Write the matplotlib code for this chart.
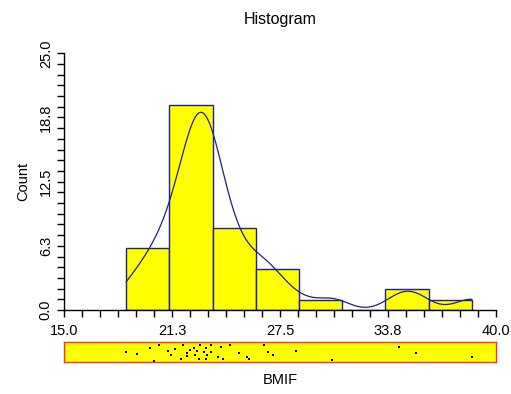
import numpy as np
import matplotlib.pyplot as plt
from matplotlib.ticker import FixedLocator

plt.rcParams["font.family"] = ["Liberation Sans", "DejaVu Sans"]

# BMIF values (a few overlap exactly)
bmif = [18.6, 19.2, 20.0, 20.2, 20.5, 21.0, 21.2, 21.4, 21.8, 21.9,
        22.1, 22.1, 22.3, 22.5, 22.6, 22.7, 22.8, 22.9, 23.1, 23.2,
        23.2, 23.3, 23.5, 23.5, 23.9, 24.1, 24.2, 24.6, 25.1, 25.6,
        25.7, 26.6, 26.8, 27.1, 28.4, 30.5, 34.4, 35.4, 38.6,
        22.9, 23.2, 24.2]
# vertical jitter of each rug dot (0 = bottom of strip, 1 = top)
rug_jitter = [0.50, 0.40, 0.70, 0.07, 0.84, 0.57, 0.34, 0.67, 0.17, 0.84,
              0.29, 0.47, 0.60, 0.70, 0.37, 0.54, 0.17, 0.84, 0.50, 0.70,
              0.17, 0.34, 0.87, 0.50, 0.24, 0.74, 0.17, 0.84, 0.47, 0.24,
              0.14, 0.87, 0.50, 0.37, 0.57, 0.10, 0.74, 0.44, 0.27,
              0.84, 0.70, 0.17]

bin_edges = [18.6, 21.1, 23.6, 26.1, 28.6, 31.1, 33.6, 36.1, 38.6]
counts = [6, 20, 8, 4, 1, 0, 2, 1]

x_ticks = [15.0, 21.25, 27.5, 33.75, 40.0]
x_tick_labels = ["15.0", "21.3", "27.5", "33.8", "40.0"]
y_ticks = [0.0, 6.25, 12.5, 18.75, 25.0]
y_tick_labels = ["0.0", "6.3", "12.5", "18.8", "25.0"]

bandwidth = 0.95


def density_counts(values, grid, h, binw):
    values = np.asarray(values)
    z = (grid[:, None] - values[None, :]) / h
    phi = np.exp(-0.5 * z ** 2) / np.sqrt(2 * np.pi)
    return binw / h * phi.sum(axis=1)


def main():
    fig = plt.figure(figsize=(5.11, 3.94), dpi=100)
    ax = fig.add_axes([0.1252, 0.2132, 0.8454, 0.6515])

    edges = np.array(bin_edges)
    widths = np.diff(edges)
    ax.bar(edges[:-1], counts, width=widths, align="edge",
           color="#FFFF00", edgecolor="#1e1e96", linewidth=1.0, zorder=2)

    grid = np.linspace(edges[0], edges[-1], 400)
    curve = density_counts(bmif, grid, bandwidth, widths[0])
    ax.plot(grid, curve, color="#1e1e96", linewidth=0.9, zorder=3)

    ax.set_xlim(15.0, 40.0)
    ax.set_ylim(0.0, 25.0)
    ax.set_xticks(x_ticks)
    ax.set_xticklabels(x_tick_labels)
    ax.set_yticks(y_ticks)
    ax.set_yticklabels(y_tick_labels, rotation=90, va="center")
    ax.xaxis.set_minor_locator(FixedLocator(np.linspace(15.0, 40.0, 25)))
    ax.yaxis.set_minor_locator(FixedLocator(np.linspace(0.0, 25.0, 25)))
    ax.tick_params(which="both", direction="out", length=5, width=1,
                   labelsize=10.5, colors="black")
    ax.tick_params(axis="x", pad=5)
    ax.tick_params(axis="y", pad=3)

    for side in ["top", "right"]:
        ax.spines[side].set_visible(False)
    ax.spines["left"].set_linewidth(1)
    ax.spines["bottom"].set_linewidth(1)

    ax.set_title("Histogram", fontsize=11.5, pad=21)
    ax.set_ylabel("Count", fontsize=10.5, labelpad=6)

    rug = fig.add_axes([0.1252, 0.0812, 0.8454, 0.0508])
    rug.set_facecolor("#FFFF00")
    rug.scatter(bmif, rug_jitter, s=3, marker="s", color="black",
                linewidths=0, zorder=3)
    rug.set_xlim(15.0, 40.0)
    rug.set_ylim(0.0, 1.0)
    rug.set_xticks([])
    rug.set_yticks([])
    for side in rug.spines:
        rug.spines[side].set_color("#FF3030")
        rug.spines[side].set_linewidth(1)
    rug.set_xlabel("BMIF", fontsize=10.5, labelpad=8)

    fig.savefig("out.png", dpi=100)
    plt.close(fig)


if __name__ == "__main__":
    main()
